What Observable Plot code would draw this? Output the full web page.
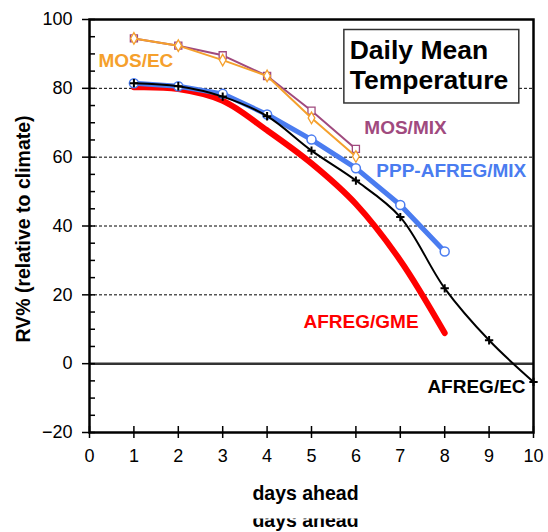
<!DOCTYPE html>
<html><head><meta charset="utf-8">
<script src="https://cdn.jsdelivr.net/npm/d3@7"></script>
<script src="https://cdn.jsdelivr.net/npm/@observablehq/plot@0.6"></script>
<style>body{margin:0;background:#fff} #chart{width:548px;height:532px}</style>
</head><body><div id="chart"></div>
<script>
const days = [1, 2, 3, 4, 5, 6, 7, 8, 9, 10];
const mosEC = [94.5, 92.4, 88.2, 83.6, 71.4, 60.2];
const mosMIX = [94.5, 92.4, 89.6, 83.6, 73.5, 62.4];
const pppAfregMix = [81.5, 80.6, 78.4, 72.4, 65.1, 56.8, 46.1, 32.6];
const afregGME = [80.3, 79.8, 76.4, 67.8, 58.2, 46.4, 30.0, 8.9];
const afregEC = [81.5, 80.6, 77.6, 71.9, 61.9, 53.2, 42.6, 21.9, 6.8, -5.3];
const yTicks = [-20, 0, 20, 40, 60, 80, 100];
const yMinorTicks = d3.range(-20, 101, 5);
const xTicks = [0, 1, 2, 3, 4, 5, 6, 7, 8, 9, 10];
const gridValues = [20, 40, 60, 80];
const titleLines = ["Daily Mean", "Temperature"];
const seriesNames = ["MOS/EC", "MOS/MIX", "PPP-AFREG/MIX", "AFREG/GME", "AFREG/EC"];

const C = {orange: "#f5a02c", purple: "#a04a7e", blue: "#4a7cf0", red: "#ff0000", black: "#000000"};
const rows = vals => vals.map((v, i) => ({day: days[i], v}));

// label annotation anchors (data coordinates)
const labels = [
  {name: seriesNames[0], x: 0.2, y: 86.3, color: C.orange},
  {name: seriesNames[1], x: 6.19, y: 66.85, color: C.purple},
  {name: seriesNames[2], x: 6.46, y: 54.1, color: C.blue},
  {name: seriesNames[3], x: 4.82, y: 10.3, color: C.red},
  {name: seriesNames[4], x: 7.61, y: -8.6, color: C.black}
];

const font = "Liberation Sans, Arial, Helvetica, sans-serif";

const plot = Plot.plot({
  width: 548, height: 532,
  marginLeft: 89, marginRight: 15, marginTop: 19, marginBottom: 100,
  x: {domain: [0, 10]},
  y: {domain: [-20, 100]},
  style: {fontFamily: font, background: "#fff", overflow: "visible"},
  marks: [
    Plot.ruleY(gridValues, {stroke: "#000", strokeWidth: 1, strokeDasharray: "3,2"}),
    Plot.ruleY([0], {stroke: "#333", strokeWidth: 2.5}),
    Plot.rect([0], {x1: 5.74, x2: 9.68, y1: 75.6, y2: 96.95, fill: "#fff", stroke: "#333", strokeWidth: 1.5}),
    Plot.text([titleLines[0]], {x: 5.86, y: 88.6, text: d => d, textAnchor: "start", lineAnchor: "bottom", fontSize: 26.5, fontWeight: "bold", fill: "#000"}),
    Plot.text([titleLines[1]], {x: 5.86, y: 79.9, text: d => d, textAnchor: "start", lineAnchor: "bottom", fontSize: 26.5, fontWeight: "bold", fill: "#000"}),
    Plot.line(rows(afregGME), {x: "day", y: "v", stroke: C.red, strokeWidth: 6, curve: "catmull-rom"}),
    Plot.line(rows(pppAfregMix), {x: "day", y: "v", stroke: C.blue, strokeWidth: 5}),
    Plot.dot(rows(pppAfregMix), {x: "day", y: "v", r: 4.5, fill: "#fff", stroke: C.blue, strokeWidth: 1.5}),
    Plot.line(rows(afregEC), {x: "day", y: "v", stroke: C.black, strokeWidth: 2, curve: "catmull-rom"}),
    Plot.dot(rows(afregEC), {x: "day", y: "v", symbol: "plus", r: 2.8, stroke: C.black, strokeWidth: 2}),
    Plot.line(rows(mosMIX), {x: "day", y: "v", stroke: C.purple, strokeWidth: 2}),
    Plot.dot(rows(mosMIX), {x: "day", y: "v", symbol: "square", r: 4, fill: "#fff", stroke: C.purple, strokeWidth: 1.3}),
    Plot.line(rows(mosEC), {x: "day", y: "v", stroke: C.orange, strokeWidth: 2}),
    Plot.dot(rows(mosEC), {x: "day", y: "v", symbol: "diamond", r: 3.5, fill: "#fff", stroke: C.orange, strokeWidth: 1.3}),
    Plot.text(labels, {x: "x", y: "y", text: "name", fill: "color", textAnchor: "start", lineAnchor: "bottom", fontSize: 19, fontWeight: "bold"}),
    Plot.frame({stroke: "#000", strokeWidth: 2.5}),
    Plot.axisY(yTicks, {tickSize: 7, tickPadding: 10, fontSize: 18, stroke: "#000", strokeWidth: 1.5, fill: "#000", label: null}),
    Plot.axisY(yMinorTicks, {tickSize: -6, tickFormat: () => "", stroke: "#000", strokeWidth: 1.5, label: null}),
    Plot.axisX(xTicks, {tickSize: 6, tickPadding: 11, fontSize: 18, stroke: "#000", strokeWidth: 1.5, fill: "#000", label: null}),
    Plot.axisX(xTicks, {tickSize: -6, tickFormat: () => "", stroke: "#000", strokeWidth: 1.5, label: null}),
    Plot.text(["RV% (relative to climate)"], {frameAnchor: "left", dx: -66, dy: 3, rotate: -90, text: d => d, textAnchor: "middle", fontSize: 19.5, fontWeight: "bold", fill: "#000", lineAnchor: "middle"}),
    Plot.text(["days ahead"], {frameAnchor: "bottom", dx: -6, dy: 67, text: d => d, textAnchor: "middle", fontSize: 19.5, fontWeight: "bold", fill: "#000", lineAnchor: "bottom"}),
    Plot.text(["days ahead"], {frameAnchor: "bottom", dx: -6, dy: 94, text: d => d, textAnchor: "middle", fontSize: 19.5, fontWeight: "bold", fill: "#000", lineAnchor: "bottom"})
  ]
});
document.getElementById("chart").appendChild(plot);
// occlude the upper part of the duplicated axis title (as in the reference)
d3.select(plot).append("rect").attr("x", 230).attr("y", 504).attr("width", 150).attr("height", 14.5).attr("fill", "#fff");
</script>
</body></html>
